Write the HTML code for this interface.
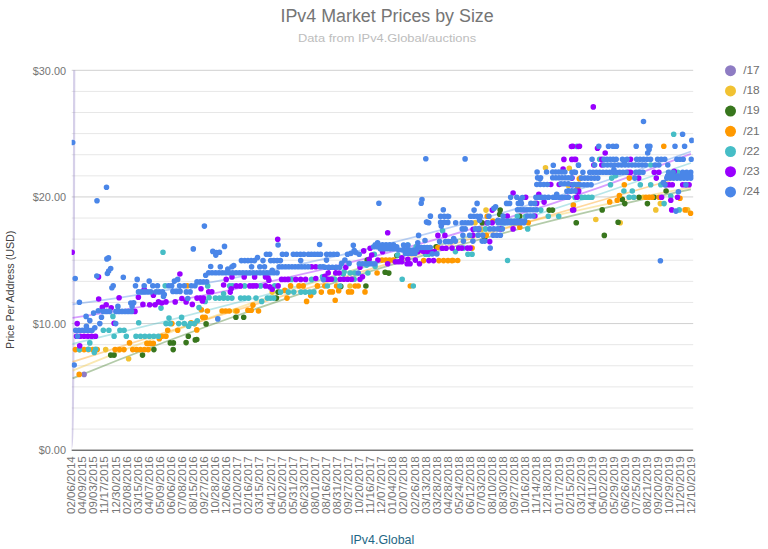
<!DOCTYPE html>
<html><head><meta charset="utf-8"><title>IPv4 Market Prices by Size</title>
<style>html,body{margin:0;padding:0;background:#fff}svg{display:block}text{font-family:"Liberation Sans",sans-serif}</style></head><body>
<svg width="768" height="549" viewBox="0 0 768 549">
<rect width="768" height="549" fill="#fff"/>
<line x1="71.7" x2="693.2" y1="70.30" y2="70.30" stroke="#d0d0d0" stroke-width="1"/>
<line x1="71.7" x2="693.2" y1="91.41" y2="91.41" stroke="#e7e7e7" stroke-width="1"/>
<line x1="71.7" x2="693.2" y1="112.51" y2="112.51" stroke="#e7e7e7" stroke-width="1"/>
<line x1="71.7" x2="693.2" y1="133.62" y2="133.62" stroke="#e7e7e7" stroke-width="1"/>
<line x1="71.7" x2="693.2" y1="154.72" y2="154.72" stroke="#e7e7e7" stroke-width="1"/>
<line x1="71.7" x2="693.2" y1="175.83" y2="175.83" stroke="#e7e7e7" stroke-width="1"/>
<line x1="71.7" x2="693.2" y1="196.93" y2="196.93" stroke="#d0d0d0" stroke-width="1"/>
<line x1="71.7" x2="693.2" y1="218.04" y2="218.04" stroke="#e7e7e7" stroke-width="1"/>
<line x1="71.7" x2="693.2" y1="239.14" y2="239.14" stroke="#e7e7e7" stroke-width="1"/>
<line x1="71.7" x2="693.2" y1="260.25" y2="260.25" stroke="#e7e7e7" stroke-width="1"/>
<line x1="71.7" x2="693.2" y1="281.36" y2="281.36" stroke="#e7e7e7" stroke-width="1"/>
<line x1="71.7" x2="693.2" y1="302.46" y2="302.46" stroke="#e7e7e7" stroke-width="1"/>
<line x1="71.7" x2="693.2" y1="323.57" y2="323.57" stroke="#d0d0d0" stroke-width="1"/>
<line x1="71.7" x2="693.2" y1="344.67" y2="344.67" stroke="#e7e7e7" stroke-width="1"/>
<line x1="71.7" x2="693.2" y1="365.78" y2="365.78" stroke="#e7e7e7" stroke-width="1"/>
<line x1="71.7" x2="693.2" y1="386.88" y2="386.88" stroke="#e7e7e7" stroke-width="1"/>
<line x1="71.7" x2="693.2" y1="407.99" y2="407.99" stroke="#e7e7e7" stroke-width="1"/>
<line x1="71.7" x2="693.2" y1="429.09" y2="429.09" stroke="#e7e7e7" stroke-width="1"/>
<clipPath id="c"><rect x="71.7" y="60" width="622.1" height="390.2"/></clipPath>
<g clip-path="url(#c)">
<path d="M74.20 70.3 L74.13 108.3 L74.06 146.3 L73.98 184.3 L73.88 222.3 L73.77 260.2 L73.63 298.2 L73.52 323.6 L73.38 348.9 L73.20 374.2 L73.09 386.9 L72.95 399.5 L72.77 412.2 L72.66 418.5 L72.52 424.9 L72.34 431.2 L72.20 435.0 L72.09 437.5 L71.95 440.1 L71.77 442.6 L71.60 444.5 L71.34 446.4 L71.09 447.7 L70.66 448.9 L70.23 449.6" stroke="#8e7cc3" stroke-opacity="0.36" stroke-width="2.2" fill="none"/>
<path d="M72.6 370.6 Q381.8 243.8 690.9 187.3" stroke="#f1c232" stroke-opacity="0.38" stroke-width="1.8" fill="none"/>
<path d="M72.6 378.4 Q381.8 251.6 690.9 189.4" stroke="#38761d" stroke-opacity="0.38" stroke-width="1.8" fill="none"/>
<path d="M72.6 361.9 Q381.8 263.0 690.9 174.5" stroke="#ff9900" stroke-opacity="0.38" stroke-width="1.8" fill="none"/>
<path d="M72.6 343.9 Q381.8 271.2 690.9 163.0" stroke="#46bdc6" stroke-opacity="0.38" stroke-width="1.8" fill="none"/>
<path d="M72.6 317.8 Q381.8 273.0 690.9 153.8" stroke="#9900ff" stroke-opacity="0.38" stroke-width="1.8" fill="none"/>
<path d="M72.6 304.4 Q381.8 262.7 690.9 151.5" stroke="#4a86e8" stroke-opacity="0.38" stroke-width="1.8" fill="none"/>
<path d="M84.1 374.4h0" stroke="#8e7cc3" stroke-width="5.6" stroke-linecap="round" fill="none"/>
<path d="M105.7 349.6h0M128.6 358.8h0M235.4 311.0h0M272.2 292.1h0M350.0 286.0h0M486.0 210.1h0M475.1 222.7h0M481.3 229.4h0M545.5 167.8h0M569.3 168.3h0M568.4 185.4h0M595.8 219.5h0M620.2 222.8h0M660.3 203.6h0M655.8 209.9h0M687.6 209.9h0M643.2 197.2h0" stroke="#f1c232" stroke-width="5.6" stroke-linecap="round" fill="none"/>
<path d="M110.7 355.1h0M114.1 355.1h0M142.5 355.1h0M153.9 349.6h0M170.3 342.9h0M173.4 342.9h0M173.2 349.6h0M188.3 336.2h0M186.1 342.6h0M195.3 339.9h0M276.4 298.1h0M235.9 317.2h0M243.7 317.2h0M206.1 323.9h0M196.8 339.5h0M278.1 292.1h0M385.1 272.3h0M388.8 273.1h0M365.9 286.0h0M340.8 286.4h0M367.2 260.1h0M436.2 246.7h0M396.9 255.5h0M500.2 210.1h0M499.7 214.3h0M519.8 216.3h0M482.2 222.7h0M549.2 210.1h0M552.5 210.1h0M576.3 222.7h0M484.7 239.4h0M666.1 191.0h0M639.0 197.2h0M622.3 199.4h0M624.8 203.6h0M647.4 203.6h0M602.2 209.9h0M576.2 222.8h0M618.1 222.3h0M604.3 235.4h0M654.1 197.2h0" stroke="#38761d" stroke-width="5.6" stroke-linecap="round" fill="none"/>
<path d="M75.4 349.6h0M79.7 349.6h0M84.1 349.6h0M88.4 349.6h0M92.8 349.6h0M97.2 349.6h0M115.1 349.6h0M119.5 349.6h0M124.0 349.6h0M132.7 349.6h0M136.5 349.6h0M140.4 349.6h0M144.3 349.6h0M148.2 349.6h0M129.5 342.9h0M146.9 343.4h0M150.1 343.4h0M153.3 343.4h0M159.3 338.7h0M161.8 336.2h0M166.0 336.2h0M167.7 330.3h0M177.7 330.3h0M171.9 323.6h0M79.2 374.4h0M191.1 322.8h0M194.8 323.6h0M187.3 285.7h0M201.4 309.8h0M207.4 311.0h0M202.7 317.2h0M205.2 317.2h0M222.1 311.0h0M225.7 311.0h0M229.3 311.0h0M237.0 311.0h0M253.0 305.1h0M247.9 310.2h0M251.3 310.2h0M258.5 311.0h0M287.0 298.1h0M306.6 301.4h0M310.7 295.4h0M196.8 329.9h0M290.6 285.9h0M299.0 285.9h0M303.2 285.9h0M317.4 285.9h0M284.8 290.4h0M321.3 292.1h0M382.0 260.1h0M385.8 260.1h0M389.6 260.1h0M393.4 260.1h0M423.7 260.6h0M438.9 260.6h0M443.6 260.6h0M448.0 260.6h0M452.0 260.6h0M437.9 247.5h0M377.1 273.0h0M410.3 286.0h0M355.2 286.0h0M358.2 286.0h0M336.6 286.0h0M324.8 286.0h0M329.9 291.9h0M332.4 291.9h0M338.7 290.7h0M348.5 291.9h0M351.5 291.9h0M365.0 291.9h0M335.2 300.3h0M528.2 222.7h0M519.8 227.2h0M486.3 235.2h0M472.1 248.1h0M453.0 260.5h0M457.7 260.5h0M573.4 205.1h0M487.2 216.3h0M493.0 221.0h0M577.6 187.9h0M579.3 178.7h0M663.8 146.3h0M629.3 178.1h0M580.4 178.1h0M624.3 184.8h0M619.4 195.5h0M617.2 200.2h0M609.7 201.9h0M645.9 197.2h0M649.1 197.2h0M652.2 197.2h0M659.1 197.2h0M680.0 198.2h0M685.1 209.9h0M690.6 213.3h0M573.3 205.2h0M577.9 189.8h0" stroke="#ff9900" stroke-width="5.6" stroke-linecap="round" fill="none"/>
<path d="M112.9 316.4h0M138.7 322.8h0M161.0 308.1h0M103.3 330.3h0M108.9 330.3h0M119.9 330.3h0M124.1 330.3h0M114.1 336.2h0M126.3 336.2h0M136.0 336.2h0M140.5 336.2h0M144.9 336.2h0M149.4 336.2h0M153.8 336.2h0M158.3 336.2h0M89.8 342.9h0M79.4 349.6h0M88.4 349.3h0M95.6 349.3h0M94.3 352.4h0M169.0 318.1h0M181.6 317.4h0M166.0 323.6h0M170.2 323.6h0M178.7 323.6h0M184.3 323.6h0M188.6 326.2h0M190.4 323.6h0M194.3 323.6h0M163.0 252.2h0M165.2 285.7h0M291.5 279.4h0M311.6 279.4h0M322.5 276.9h0M209.1 297.6h0M215.4 298.1h0M219.5 298.1h0M223.6 298.1h0M227.7 298.1h0M231.9 298.1h0M240.6 298.1h0M244.6 298.1h0M248.6 298.1h0M256.0 298.1h0M261.7 301.4h0M267.4 298.1h0M270.5 298.1h0M273.7 298.1h0M199.0 307.6h0M197.3 320.7h0M205.2 301.4h0M207.7 285.9h0M229.7 285.9h0M232.7 285.9h0M244.6 285.9h0M260.5 285.9h0M274.7 285.9h0M223.6 293.7h0M288.3 292.1h0M293.8 292.1h0M300.9 292.1h0M305.2 292.1h0M309.6 292.1h0M313.9 292.1h0M280.6 292.1h0M374.3 254.2h0M344.1 271.8h0M343.3 274.0h0M350.1 273.0h0M354.8 273.0h0M367.9 273.0h0M375.1 266.3h0M397.7 255.0h0M407.8 245.0h0M416.1 246.7h0M402.2 279.3h0M413.3 286.0h0M442.6 230.8h0M425.5 254.2h0M428.5 254.2h0M327.4 286.0h0M339.9 286.0h0M331.7 279.3h0M334.7 279.3h0M354.2 279.3h0M366.7 265.1h0M485.5 228.9h0M527.7 228.9h0M517.3 216.3h0M540.8 210.1h0M525.7 216.3h0M548.3 216.3h0M558.7 216.3h0M455.4 251.6h0M467.9 254.2h0M472.1 254.2h0M507.6 260.5h0M575.1 197.5h0M463.7 248.1h0M576.8 146.5h0M673.7 134.2h0M577.0 146.3h0M599.6 159.3h0M650.7 165.0h0M611.7 178.1h0M615.6 175.6h0M677.9 172.2h0M610.5 184.8h0M640.3 184.8h0M650.7 184.8h0M660.8 184.8h0M623.9 191.0h0M632.3 191.0h0M581.4 197.2h0M584.9 197.2h0M588.4 197.2h0M591.9 197.2h0M629.1 197.2h0M633.8 197.2h0M664.1 203.6h0M670.8 196.0h0M679.2 209.9h0" stroke="#46bdc6" stroke-width="5.6" stroke-linecap="round" fill="none"/>
<path d="M98.7 299.0h0M119.1 297.7h0M138.4 297.3h0M106.2 304.7h0M102.3 307.4h0M111.2 307.7h0M135.0 311.4h0M77.2 323.6h0M114.1 323.3h0M76.5 336.2h0M80.3 336.2h0M84.1 336.2h0M87.9 336.2h0M91.7 336.2h0M95.5 336.2h0M79.7 345.7h0M142.9 304.4h0M149.7 304.7h0M155.1 304.7h0M158.5 301.9h0M161.8 303.0h0M166.0 301.9h0M175.2 301.9h0M181.9 298.5h0M186.1 301.9h0M192.3 304.4h0M72.2 252.2h0M98.5 276.9h0M179.9 274.0h0M144.2 289.4h0M153.4 295.3h0M277.7 239.2h0M226.2 279.4h0M232.0 276.9h0M244.2 276.9h0M254.6 276.9h0M265.5 276.9h0M268.0 277.7h0M268.9 280.2h0M281.6 279.4h0M284.8 279.4h0M288.0 279.4h0M295.8 279.4h0M300.7 279.4h0M305.6 279.4h0M315.8 278.5h0M311.6 266.8h0M315.8 266.8h0M197.0 298.1h0M200.2 298.1h0M203.4 298.1h0M202.4 300.9h0M201.0 288.7h0M208.7 291.7h0M211.8 291.7h0M223.6 285.0h0M236.2 285.9h0M240.4 285.9h0M249.8 285.9h0M253.0 285.9h0M256.1 285.9h0M265.5 285.9h0M269.7 286.7h0M272.2 289.2h0M278.1 285.9h0M231.2 288.7h0M230.3 292.1h0M387.7 232.8h0M363.7 250.9h0M370.1 248.3h0M371.7 255.0h0M369.2 259.2h0M377.9 260.1h0M382.6 251.7h0M387.7 263.7h0M395.4 261.7h0M398.5 261.7h0M401.7 261.7h0M401.9 257.9h0M407.1 263.7h0M410.1 263.7h0M415.3 260.1h0M419.5 263.7h0M407.8 259.2h0M437.9 235.4h0M444.9 235.4h0M442.3 248.3h0M446.1 248.3h0M428.9 260.6h0M433.6 260.6h0M417.8 251.7h0M422.8 250.9h0M423.7 251.5h0M427.2 251.5h0M430.8 251.5h0M434.4 251.5h0M345.8 267.3h0M360.0 267.3h0M335.7 267.6h0M329.0 267.6h0M328.2 273.0h0M335.7 273.0h0M339.1 273.0h0M325.0 279.3h0M328.2 279.3h0M331.4 279.3h0M340.1 279.3h0M343.9 279.3h0M347.7 279.3h0M351.5 279.3h0M360.0 279.3h0M362.5 276.8h0M324.8 276.3h0M513.1 193.0h0M538.8 194.2h0M525.7 197.2h0M544.1 202.1h0M536.6 203.4h0M492.2 210.1h0M507.3 216.0h0M534.9 216.0h0M487.2 222.7h0M492.2 222.7h0M473.1 229.4h0M478.6 229.4h0M513.1 228.9h0M500.6 228.9h0M472.9 235.2h0M489.7 241.6h0M452.0 248.1h0M458.7 248.1h0M461.7 248.1h0M467.4 248.1h0M470.1 248.1h0M576.8 197.2h0M572.6 210.1h0M567.6 197.2h0M578.5 191.7h0M571.4 146.5h0M578.5 146.5h0M563.9 159.4h0M571.8 159.4h0M575.6 159.4h0M563.1 169.0h0M550.8 184.5h0M559.2 184.5h0M576.8 191.2h0M593.3 106.9h0M572.8 146.3h0M579.5 146.3h0M597.5 148.3h0M605.2 153.0h0M574.5 159.3h0M601.8 159.3h0M630.6 159.3h0M593.8 165.0h0M601.8 165.0h0M628.1 172.2h0M630.6 172.2h0M654.2 172.2h0M658.9 172.2h0M674.2 171.4h0M638.7 178.1h0M656.3 178.1h0M572.0 178.1h0M578.7 191.0h0M577.0 197.2h0M573.7 209.9h0M666.0 184.8h0M669.2 184.8h0M672.3 184.8h0M682.7 184.8h0M685.9 184.8h0M689.1 184.8h0M661.6 197.2h0M670.8 200.2h0M677.5 197.2h0M671.7 209.9h0M572.0 184.8h0" stroke="#9900ff" stroke-width="5.6" stroke-linecap="round" fill="none"/>
<path d="M79.4 302.2h0M93.6 313.1h0M98.3 310.7h0M103.3 311.4h0M106.5 311.4h0M109.7 311.4h0M115.9 311.4h0M119.0 311.4h0M122.1 311.4h0M125.3 311.4h0M128.4 311.4h0M131.5 311.4h0M117.9 306.4h0M130.8 303.0h0M133.7 302.7h0M86.1 316.4h0M89.8 320.6h0M101.5 317.3h0M99.8 323.6h0M86.4 326.2h0M94.8 327.8h0M115.7 323.6h0M75.7 330.3h0M79.0 330.3h0M82.3 330.3h0M85.6 330.3h0M88.8 330.3h0M92.1 330.3h0M77.5 336.2h0M74.2 365.0h0M163.5 296.5h0M187.8 298.5h0M75.2 278.5h0M96.8 276.0h0M106.9 258.9h0M108.5 257.9h0M110.7 268.5h0M108.7 271.0h0M107.4 273.5h0M123.3 277.2h0M113.2 285.7h0M111.9 287.8h0M137.2 279.4h0M135.5 285.7h0M144.2 285.7h0M149.2 281.1h0M152.8 285.7h0M157.5 285.7h0M168.7 285.7h0M171.7 285.7h0M174.4 281.1h0M177.7 279.4h0M179.6 285.7h0M184.3 285.7h0M191.3 285.7h0M195.0 285.7h0M193.3 248.9h0M138.5 291.9h0M141.6 291.9h0M144.6 291.9h0M147.7 291.9h0M150.8 291.9h0M156.1 291.9h0M159.3 291.9h0M162.5 291.9h0M164.3 294.5h0M172.9 291.4h0M176.5 291.4h0M180.1 291.4h0M186.3 291.9h0M190.1 291.9h0M72.7 142.5h0M106.5 187.3h0M97.0 200.7h0M204.4 226.1h0M224.5 246.4h0M212.8 251.4h0M216.4 252.6h0M219.5 252.2h0M215.8 255.1h0M241.4 260.6h0M244.7 260.6h0M247.9 260.6h0M251.2 260.6h0M254.5 260.6h0M257.5 257.6h0M263.0 260.6h0M270.7 260.6h0M273.9 260.6h0M277.2 260.6h0M280.4 260.6h0M266.4 254.3h0M269.7 254.3h0M282.4 254.3h0M286.3 254.3h0M293.3 254.3h0M296.8 254.3h0M300.4 254.3h0M303.9 254.3h0M308.4 254.3h0M311.4 254.3h0M314.5 254.3h0M317.6 254.3h0M320.6 254.3h0M278.1 245.0h0M319.6 244.5h0M300.7 260.6h0M210.7 266.5h0M220.3 266.8h0M232.0 266.8h0M233.7 265.6h0M227.8 269.0h0M251.6 266.8h0M259.8 266.8h0M264.5 266.8h0M279.1 266.8h0M282.3 266.8h0M285.5 266.8h0M288.7 266.8h0M292.0 266.8h0M295.2 266.8h0M298.4 266.8h0M301.6 266.8h0M304.8 266.8h0M308.1 266.8h0M320.1 266.8h0M323.0 266.8h0M208.7 272.7h0M212.1 272.7h0M215.6 272.7h0M219.0 272.7h0M222.4 272.7h0M225.8 272.7h0M229.2 272.7h0M232.6 272.7h0M236.1 272.7h0M239.5 272.7h0M242.9 272.7h0M246.3 272.7h0M249.7 272.7h0M253.2 272.7h0M256.6 272.7h0M260.0 272.7h0M263.4 272.7h0M266.8 272.7h0M270.2 272.7h0M273.7 272.7h0M277.1 272.7h0M272.2 270.2h0M205.7 275.2h0M197.0 281.9h0M200.2 281.9h0M203.5 281.9h0M206.7 281.9h0M217.8 318.9h0M326.7 254.2h0M330.2 254.2h0M333.7 254.2h0M337.2 254.2h0M347.5 254.2h0M350.8 253.4h0M353.3 245.3h0M354.2 250.5h0M355.8 252.5h0M359.2 254.2h0M326.5 260.1h0M344.9 260.1h0M341.6 263.4h0M349.1 263.4h0M325.0 267.3h0M328.7 267.3h0M332.4 267.3h0M336.1 267.3h0M339.8 267.3h0M359.3 263.7h0M362.5 263.7h0M365.6 263.7h0M368.7 263.7h0M371.8 263.7h0M374.9 263.7h0M358.3 273.0h0M373.6 246.7h0M376.9 246.7h0M380.2 246.7h0M383.5 246.7h0M386.8 246.7h0M390.1 246.7h0M393.4 246.7h0M396.7 246.7h0M377.6 242.8h0M375.3 244.7h0M378.9 244.7h0M382.5 244.7h0M386.1 244.7h0M389.7 244.7h0M393.4 244.7h0M380.3 248.7h0M383.6 248.7h0M386.8 248.7h0M390.1 248.7h0M393.4 248.7h0M396.7 248.7h0M398.7 250.0h0M402.3 250.0h0M405.9 250.0h0M409.6 250.0h0M413.2 250.0h0M416.8 250.0h0M403.6 245.0h0M407.8 245.0h0M405.4 253.4h0M408.6 253.4h0M411.9 253.4h0M415.1 253.4h0M417.8 247.5h0M421.3 247.5h0M424.3 247.5h0M427.2 247.5h0M430.2 247.5h0M418.6 235.4h0M425.0 240.5h0M417.8 242.8h0M432.2 253.9h0M436.9 253.9h0M430.4 216.0h0M440.6 216.5h0M444.6 216.5h0M448.6 216.5h0M427.0 222.0h0M428.7 222.7h0M440.6 222.4h0M444.2 222.4h0M447.8 222.4h0M441.3 226.1h0M439.6 241.6h0M445.6 241.6h0M448.3 241.6h0M451.0 241.6h0M425.8 158.8h0M378.9 203.3h0M422.0 199.5h0M421.2 203.3h0M443.3 209.8h0M430.4 216.2h0M440.6 216.2h0M444.2 216.2h0M447.8 216.2h0M426.5 222.1h0M428.2 222.6h0M477.1 203.4h0M474.1 210.1h0M470.6 216.3h0M473.8 216.3h0M477.1 216.3h0M480.3 216.3h0M488.9 216.3h0M455.7 222.7h0M462.2 222.7h0M465.2 222.7h0M468.1 222.7h0M471.1 222.7h0M479.6 220.2h0M488.0 222.7h0M462.2 228.9h0M465.2 228.9h0M475.5 228.9h0M478.8 228.9h0M489.9 228.9h0M493.9 228.9h0M497.9 228.9h0M502.3 228.9h0M462.9 235.2h0M469.6 235.2h0M478.1 235.2h0M482.8 235.2h0M493.2 235.2h0M496.8 235.2h0M500.4 235.2h0M453.7 238.6h0M455.4 241.1h0M463.4 241.1h0M472.9 241.1h0M482.2 241.1h0M484.7 241.1h0M490.2 248.1h0M495.6 206.8h0M493.9 208.4h0M497.4 221.0h0M500.8 221.0h0M504.2 221.0h0M507.6 221.0h0M511.0 221.0h0M514.5 221.0h0M517.9 221.0h0M521.3 221.0h0M524.7 221.0h0M498.2 222.7h0M501.4 222.7h0M504.6 222.7h0M507.8 222.7h0M511.0 222.7h0M514.2 222.7h0M517.5 222.7h0M520.7 222.7h0M523.9 222.7h0M503.1 216.0h0M498.1 220.2h0M506.6 203.4h0M509.6 203.4h0M510.6 197.2h0M516.8 197.2h0M522.4 197.5h0M518.3 203.4h0M521.4 203.4h0M520.7 200.9h0M517.5 209.8h0M520.6 209.8h0M523.8 209.8h0M527.0 209.8h0M530.1 209.8h0M533.3 209.8h0M536.4 209.8h0M527.5 216.0h0M530.3 216.0h0M533.1 216.0h0M530.9 203.4h0M534.8 203.4h0M535.9 197.2h0M538.9 197.2h0M541.8 197.2h0M544.8 197.2h0M548.5 197.2h0M553.2 197.2h0M556.0 197.2h0M559.1 197.2h0M562.1 197.2h0M565.2 197.2h0M568.3 197.2h0M556.7 194.2h0M566.9 191.3h0M570.8 191.3h0M465.1 158.9h0M553.3 165.3h0M578.5 165.3h0M537.1 172.0h0M546.6 172.0h0M552.7 172.0h0M555.7 172.0h0M558.8 172.0h0M561.8 172.0h0M564.9 172.0h0M574.3 172.0h0M537.6 177.8h0M540.6 177.8h0M552.7 177.8h0M555.8 177.8h0M559.0 177.8h0M562.1 177.8h0M565.3 177.8h0M568.4 177.8h0M571.6 177.8h0M539.9 179.0h0M536.8 184.5h0M540.3 184.5h0M543.8 184.5h0M547.3 184.5h0M561.0 183.7h0M564.6 183.7h0M568.3 183.7h0M574.3 184.5h0M578.5 184.5h0M568.6 190.9h0M571.8 190.9h0M575.0 190.9h0M643.5 121.5h0M682.6 134.2h0M691.8 140.4h0M598.8 146.3h0M608.5 146.3h0M613.0 146.3h0M616.4 146.3h0M636.2 146.3h0M647.7 146.3h0M649.9 146.3h0M649.1 149.6h0M647.7 153.0h0M675.0 146.3h0M684.6 146.3h0M592.1 159.3h0M604.0 159.3h0M607.0 159.3h0M610.1 159.3h0M613.2 159.3h0M616.2 159.3h0M622.4 159.3h0M627.1 159.3h0M636.7 159.3h0M640.1 159.3h0M643.6 159.3h0M647.1 159.3h0M650.6 159.3h0M657.6 159.3h0M661.2 159.3h0M664.8 159.3h0M676.9 159.3h0M680.0 159.3h0M683.2 159.3h0M691.3 159.3h0M578.4 165.0h0M594.6 165.0h0M604.0 165.0h0M607.5 165.0h0M611.0 165.0h0M614.6 165.0h0M618.2 165.0h0M621.6 165.0h0M625.1 165.0h0M628.5 165.0h0M631.9 165.0h0M635.3 165.0h0M638.7 165.0h0M642.1 165.0h0M645.5 165.0h0M655.1 165.0h0M658.9 165.0h0M667.8 165.0h0M624.3 162.7h0M572.0 172.2h0M575.4 172.2h0M582.9 172.2h0M589.8 172.2h0M593.1 172.2h0M596.4 172.2h0M599.7 172.2h0M603.0 172.2h0M606.4 172.2h0M609.7 172.2h0M613.0 172.2h0M616.3 172.2h0M619.6 172.2h0M623.0 172.2h0M626.3 172.2h0M635.8 172.2h0M639.4 172.2h0M643.0 172.2h0M668.5 172.2h0M673.2 172.2h0M682.7 172.2h0M686.7 172.2h0M690.8 172.2h0M581.4 178.1h0M584.7 178.1h0M587.9 178.1h0M591.2 178.1h0M594.5 178.1h0M597.8 178.1h0M634.8 178.1h0M666.8 178.1h0M670.2 178.1h0M673.6 178.1h0M677.1 178.1h0M680.5 178.1h0M683.9 178.1h0M687.3 178.1h0M690.8 178.1h0M667.6 176.1h0M670.9 176.1h0M674.2 176.1h0M677.6 176.1h0M680.9 176.1h0M684.2 176.1h0M687.5 176.1h0M690.8 176.1h0M613.9 169.7h0M573.0 184.8h0M576.6 184.8h0M580.2 184.8h0M583.9 184.8h0M587.5 184.8h0M591.1 184.8h0M663.3 182.6h0M665.0 184.8h0M685.9 184.8h0M574.5 191.0h0M678.4 191.8h0M675.9 211.1h0M660.4 260.7h0M323.4 279.6h0M132.1 306.3h0" stroke="#4a86e8" stroke-width="5.6" stroke-linecap="round" fill="none"/>
</g>
<line x1="71.7" x2="693.2" y1="450.2" y2="450.2" stroke="#333" stroke-width="1"/>
<text x="66" y="74.5" text-anchor="end" font-size="11.6" fill="#757575" textLength="33.2" lengthAdjust="spacingAndGlyphs">$30.00</text>
<text x="66" y="201.1" text-anchor="end" font-size="11.6" fill="#757575" textLength="33.2" lengthAdjust="spacingAndGlyphs">$20.00</text>
<text x="66" y="327.8" text-anchor="end" font-size="11.6" fill="#757575" textLength="33.2" lengthAdjust="spacingAndGlyphs">$10.00</text>
<text x="66" y="454.4" text-anchor="end" font-size="11.6" fill="#757575" textLength="27.3" lengthAdjust="spacingAndGlyphs">$0.00</text>
<text transform="translate(75.20,456.3) rotate(-90)" text-anchor="end" font-size="10.6" fill="#757575" textLength="57.6" lengthAdjust="spacingAndGlyphs">02/06/2014</text>
<text transform="translate(86.28,456.3) rotate(-90)" text-anchor="end" font-size="10.6" fill="#757575" textLength="57.6" lengthAdjust="spacingAndGlyphs">04/09/2015</text>
<text transform="translate(97.35,456.3) rotate(-90)" text-anchor="end" font-size="10.6" fill="#757575" textLength="57.6" lengthAdjust="spacingAndGlyphs">09/03/2015</text>
<text transform="translate(108.42,456.3) rotate(-90)" text-anchor="end" font-size="10.6" fill="#757575" textLength="57.6" lengthAdjust="spacingAndGlyphs">11/17/2015</text>
<text transform="translate(119.50,456.3) rotate(-90)" text-anchor="end" font-size="10.6" fill="#757575" textLength="57.6" lengthAdjust="spacingAndGlyphs">12/30/2015</text>
<text transform="translate(130.58,456.3) rotate(-90)" text-anchor="end" font-size="10.6" fill="#757575" textLength="57.6" lengthAdjust="spacingAndGlyphs">02/08/2016</text>
<text transform="translate(141.65,456.3) rotate(-90)" text-anchor="end" font-size="10.6" fill="#757575" textLength="57.6" lengthAdjust="spacingAndGlyphs">03/15/2016</text>
<text transform="translate(152.73,456.3) rotate(-90)" text-anchor="end" font-size="10.6" fill="#757575" textLength="57.6" lengthAdjust="spacingAndGlyphs">04/07/2016</text>
<text transform="translate(163.80,456.3) rotate(-90)" text-anchor="end" font-size="10.6" fill="#757575" textLength="57.6" lengthAdjust="spacingAndGlyphs">05/09/2016</text>
<text transform="translate(174.88,456.3) rotate(-90)" text-anchor="end" font-size="10.6" fill="#757575" textLength="57.6" lengthAdjust="spacingAndGlyphs">06/06/2016</text>
<text transform="translate(185.95,456.3) rotate(-90)" text-anchor="end" font-size="10.6" fill="#757575" textLength="57.6" lengthAdjust="spacingAndGlyphs">07/08/2016</text>
<text transform="translate(197.03,456.3) rotate(-90)" text-anchor="end" font-size="10.6" fill="#757575" textLength="57.6" lengthAdjust="spacingAndGlyphs">08/15/2016</text>
<text transform="translate(208.10,456.3) rotate(-90)" text-anchor="end" font-size="10.6" fill="#757575" textLength="57.6" lengthAdjust="spacingAndGlyphs">09/27/2016</text>
<text transform="translate(219.18,456.3) rotate(-90)" text-anchor="end" font-size="10.6" fill="#757575" textLength="57.6" lengthAdjust="spacingAndGlyphs">10/28/2016</text>
<text transform="translate(230.25,456.3) rotate(-90)" text-anchor="end" font-size="10.6" fill="#757575" textLength="57.6" lengthAdjust="spacingAndGlyphs">12/06/2016</text>
<text transform="translate(241.33,456.3) rotate(-90)" text-anchor="end" font-size="10.6" fill="#757575" textLength="57.6" lengthAdjust="spacingAndGlyphs">01/20/2017</text>
<text transform="translate(252.40,456.3) rotate(-90)" text-anchor="end" font-size="10.6" fill="#757575" textLength="57.6" lengthAdjust="spacingAndGlyphs">02/16/2017</text>
<text transform="translate(263.48,456.3) rotate(-90)" text-anchor="end" font-size="10.6" fill="#757575" textLength="57.6" lengthAdjust="spacingAndGlyphs">03/15/2017</text>
<text transform="translate(274.55,456.3) rotate(-90)" text-anchor="end" font-size="10.6" fill="#757575" textLength="57.6" lengthAdjust="spacingAndGlyphs">04/12/2017</text>
<text transform="translate(285.63,456.3) rotate(-90)" text-anchor="end" font-size="10.6" fill="#757575" textLength="57.6" lengthAdjust="spacingAndGlyphs">05/02/2017</text>
<text transform="translate(296.70,456.3) rotate(-90)" text-anchor="end" font-size="10.6" fill="#757575" textLength="57.6" lengthAdjust="spacingAndGlyphs">05/31/2017</text>
<text transform="translate(307.78,456.3) rotate(-90)" text-anchor="end" font-size="10.6" fill="#757575" textLength="57.6" lengthAdjust="spacingAndGlyphs">06/23/2017</text>
<text transform="translate(318.85,456.3) rotate(-90)" text-anchor="end" font-size="10.6" fill="#757575" textLength="57.6" lengthAdjust="spacingAndGlyphs">08/01/2017</text>
<text transform="translate(329.93,456.3) rotate(-90)" text-anchor="end" font-size="10.6" fill="#757575" textLength="57.6" lengthAdjust="spacingAndGlyphs">08/16/2017</text>
<text transform="translate(341.00,456.3) rotate(-90)" text-anchor="end" font-size="10.6" fill="#757575" textLength="57.6" lengthAdjust="spacingAndGlyphs">08/31/2017</text>
<text transform="translate(352.08,456.3) rotate(-90)" text-anchor="end" font-size="10.6" fill="#757575" textLength="57.6" lengthAdjust="spacingAndGlyphs">09/27/2017</text>
<text transform="translate(363.15,456.3) rotate(-90)" text-anchor="end" font-size="10.6" fill="#757575" textLength="57.6" lengthAdjust="spacingAndGlyphs">10/20/2017</text>
<text transform="translate(374.23,456.3) rotate(-90)" text-anchor="end" font-size="10.6" fill="#757575" textLength="57.6" lengthAdjust="spacingAndGlyphs">11/16/2017</text>
<text transform="translate(385.30,456.3) rotate(-90)" text-anchor="end" font-size="10.6" fill="#757575" textLength="57.6" lengthAdjust="spacingAndGlyphs">12/07/2017</text>
<text transform="translate(396.38,456.3) rotate(-90)" text-anchor="end" font-size="10.6" fill="#757575" textLength="57.6" lengthAdjust="spacingAndGlyphs">01/04/2018</text>
<text transform="translate(407.45,456.3) rotate(-90)" text-anchor="end" font-size="10.6" fill="#757575" textLength="57.6" lengthAdjust="spacingAndGlyphs">02/07/2018</text>
<text transform="translate(418.53,456.3) rotate(-90)" text-anchor="end" font-size="10.6" fill="#757575" textLength="57.6" lengthAdjust="spacingAndGlyphs">02/26/2018</text>
<text transform="translate(429.60,456.3) rotate(-90)" text-anchor="end" font-size="10.6" fill="#757575" textLength="57.6" lengthAdjust="spacingAndGlyphs">03/13/2018</text>
<text transform="translate(440.68,456.3) rotate(-90)" text-anchor="end" font-size="10.6" fill="#757575" textLength="57.6" lengthAdjust="spacingAndGlyphs">03/28/2018</text>
<text transform="translate(451.75,456.3) rotate(-90)" text-anchor="end" font-size="10.6" fill="#757575" textLength="57.6" lengthAdjust="spacingAndGlyphs">04/28/2018</text>
<text transform="translate(462.82,456.3) rotate(-90)" text-anchor="end" font-size="10.6" fill="#757575" textLength="57.6" lengthAdjust="spacingAndGlyphs">05/24/2018</text>
<text transform="translate(473.90,456.3) rotate(-90)" text-anchor="end" font-size="10.6" fill="#757575" textLength="57.6" lengthAdjust="spacingAndGlyphs">06/12/2018</text>
<text transform="translate(484.98,456.3) rotate(-90)" text-anchor="end" font-size="10.6" fill="#757575" textLength="57.6" lengthAdjust="spacingAndGlyphs">07/03/2018</text>
<text transform="translate(496.05,456.3) rotate(-90)" text-anchor="end" font-size="10.6" fill="#757575" textLength="57.6" lengthAdjust="spacingAndGlyphs">08/10/2018</text>
<text transform="translate(507.13,456.3) rotate(-90)" text-anchor="end" font-size="10.6" fill="#757575" textLength="57.6" lengthAdjust="spacingAndGlyphs">08/30/2018</text>
<text transform="translate(518.20,456.3) rotate(-90)" text-anchor="end" font-size="10.6" fill="#757575" textLength="57.6" lengthAdjust="spacingAndGlyphs">09/27/2018</text>
<text transform="translate(529.27,456.3) rotate(-90)" text-anchor="end" font-size="10.6" fill="#757575" textLength="57.6" lengthAdjust="spacingAndGlyphs">10/16/2018</text>
<text transform="translate(540.35,456.3) rotate(-90)" text-anchor="end" font-size="10.6" fill="#757575" textLength="57.6" lengthAdjust="spacingAndGlyphs">11/14/2018</text>
<text transform="translate(551.42,456.3) rotate(-90)" text-anchor="end" font-size="10.6" fill="#757575" textLength="57.6" lengthAdjust="spacingAndGlyphs">12/18/2018</text>
<text transform="translate(562.50,456.3) rotate(-90)" text-anchor="end" font-size="10.6" fill="#757575" textLength="57.6" lengthAdjust="spacingAndGlyphs">01/17/2019</text>
<text transform="translate(573.58,456.3) rotate(-90)" text-anchor="end" font-size="10.6" fill="#757575" textLength="57.6" lengthAdjust="spacingAndGlyphs">02/15/2019</text>
<text transform="translate(584.65,456.3) rotate(-90)" text-anchor="end" font-size="10.6" fill="#757575" textLength="57.6" lengthAdjust="spacingAndGlyphs">03/12/2019</text>
<text transform="translate(595.72,456.3) rotate(-90)" text-anchor="end" font-size="10.6" fill="#757575" textLength="57.6" lengthAdjust="spacingAndGlyphs">04/11/2019</text>
<text transform="translate(606.80,456.3) rotate(-90)" text-anchor="end" font-size="10.6" fill="#757575" textLength="57.6" lengthAdjust="spacingAndGlyphs">05/02/2019</text>
<text transform="translate(617.88,456.3) rotate(-90)" text-anchor="end" font-size="10.6" fill="#757575" textLength="57.6" lengthAdjust="spacingAndGlyphs">05/29/2019</text>
<text transform="translate(628.95,456.3) rotate(-90)" text-anchor="end" font-size="10.6" fill="#757575" textLength="57.6" lengthAdjust="spacingAndGlyphs">06/26/2019</text>
<text transform="translate(640.02,456.3) rotate(-90)" text-anchor="end" font-size="10.6" fill="#757575" textLength="57.6" lengthAdjust="spacingAndGlyphs">07/25/2019</text>
<text transform="translate(651.10,456.3) rotate(-90)" text-anchor="end" font-size="10.6" fill="#757575" textLength="57.6" lengthAdjust="spacingAndGlyphs">08/21/2019</text>
<text transform="translate(662.18,456.3) rotate(-90)" text-anchor="end" font-size="10.6" fill="#757575" textLength="57.6" lengthAdjust="spacingAndGlyphs">09/20/2019</text>
<text transform="translate(673.25,456.3) rotate(-90)" text-anchor="end" font-size="10.6" fill="#757575" textLength="57.6" lengthAdjust="spacingAndGlyphs">10/29/2019</text>
<text transform="translate(684.32,456.3) rotate(-90)" text-anchor="end" font-size="10.6" fill="#757575" textLength="57.6" lengthAdjust="spacingAndGlyphs">11/20/2019</text>
<text transform="translate(695.40,456.3) rotate(-90)" text-anchor="end" font-size="10.6" fill="#757575" textLength="57.6" lengthAdjust="spacingAndGlyphs">12/10/2019</text>
<text x="387.1" y="21.7" text-anchor="middle" font-size="18" fill="#757575" textLength="213.2" lengthAdjust="spacingAndGlyphs">IPv4 Market Prices by Size</text>
<text x="387" y="42.4" text-anchor="middle" font-size="11.7" fill="#bdbdbd" textLength="178.2" lengthAdjust="spacingAndGlyphs">Data from IPv4.Global/auctions</text>
<text x="382.2" y="543.5" text-anchor="middle" font-size="13" fill="#1e6785" textLength="64.1" lengthAdjust="spacingAndGlyphs">IPv4.Global</text>
<text transform="translate(13.8,289.8) rotate(-90)" text-anchor="middle" font-size="11.6" fill="#444" textLength="118.4" lengthAdjust="spacingAndGlyphs">Price Per Address (USD)</text>
<circle cx="730.5" cy="70.7" r="5.5" fill="#8e7cc3"/>
<text x="743.2" y="74.0" font-size="10.6" fill="#6e6e6e" textLength="16.5" lengthAdjust="spacingAndGlyphs">/17</text>
<circle cx="730.5" cy="90.9" r="5.5" fill="#f1c232"/>
<text x="743.2" y="94.2" font-size="10.6" fill="#6e6e6e" textLength="16.5" lengthAdjust="spacingAndGlyphs">/18</text>
<circle cx="730.5" cy="111.1" r="5.5" fill="#38761d"/>
<text x="743.2" y="114.4" font-size="10.6" fill="#6e6e6e" textLength="16.5" lengthAdjust="spacingAndGlyphs">/19</text>
<circle cx="730.5" cy="131.3" r="5.5" fill="#ff9900"/>
<text x="743.2" y="134.6" font-size="10.6" fill="#6e6e6e" textLength="16.5" lengthAdjust="spacingAndGlyphs">/21</text>
<circle cx="730.5" cy="151.5" r="5.5" fill="#46bdc6"/>
<text x="743.2" y="154.8" font-size="10.6" fill="#6e6e6e" textLength="16.5" lengthAdjust="spacingAndGlyphs">/22</text>
<circle cx="730.5" cy="171.7" r="5.5" fill="#9900ff"/>
<text x="743.2" y="175.0" font-size="10.6" fill="#6e6e6e" textLength="16.5" lengthAdjust="spacingAndGlyphs">/23</text>
<circle cx="730.5" cy="191.9" r="5.5" fill="#4a86e8"/>
<text x="743.2" y="195.2" font-size="10.6" fill="#6e6e6e" textLength="16.5" lengthAdjust="spacingAndGlyphs">/24</text>
</svg></body></html>
